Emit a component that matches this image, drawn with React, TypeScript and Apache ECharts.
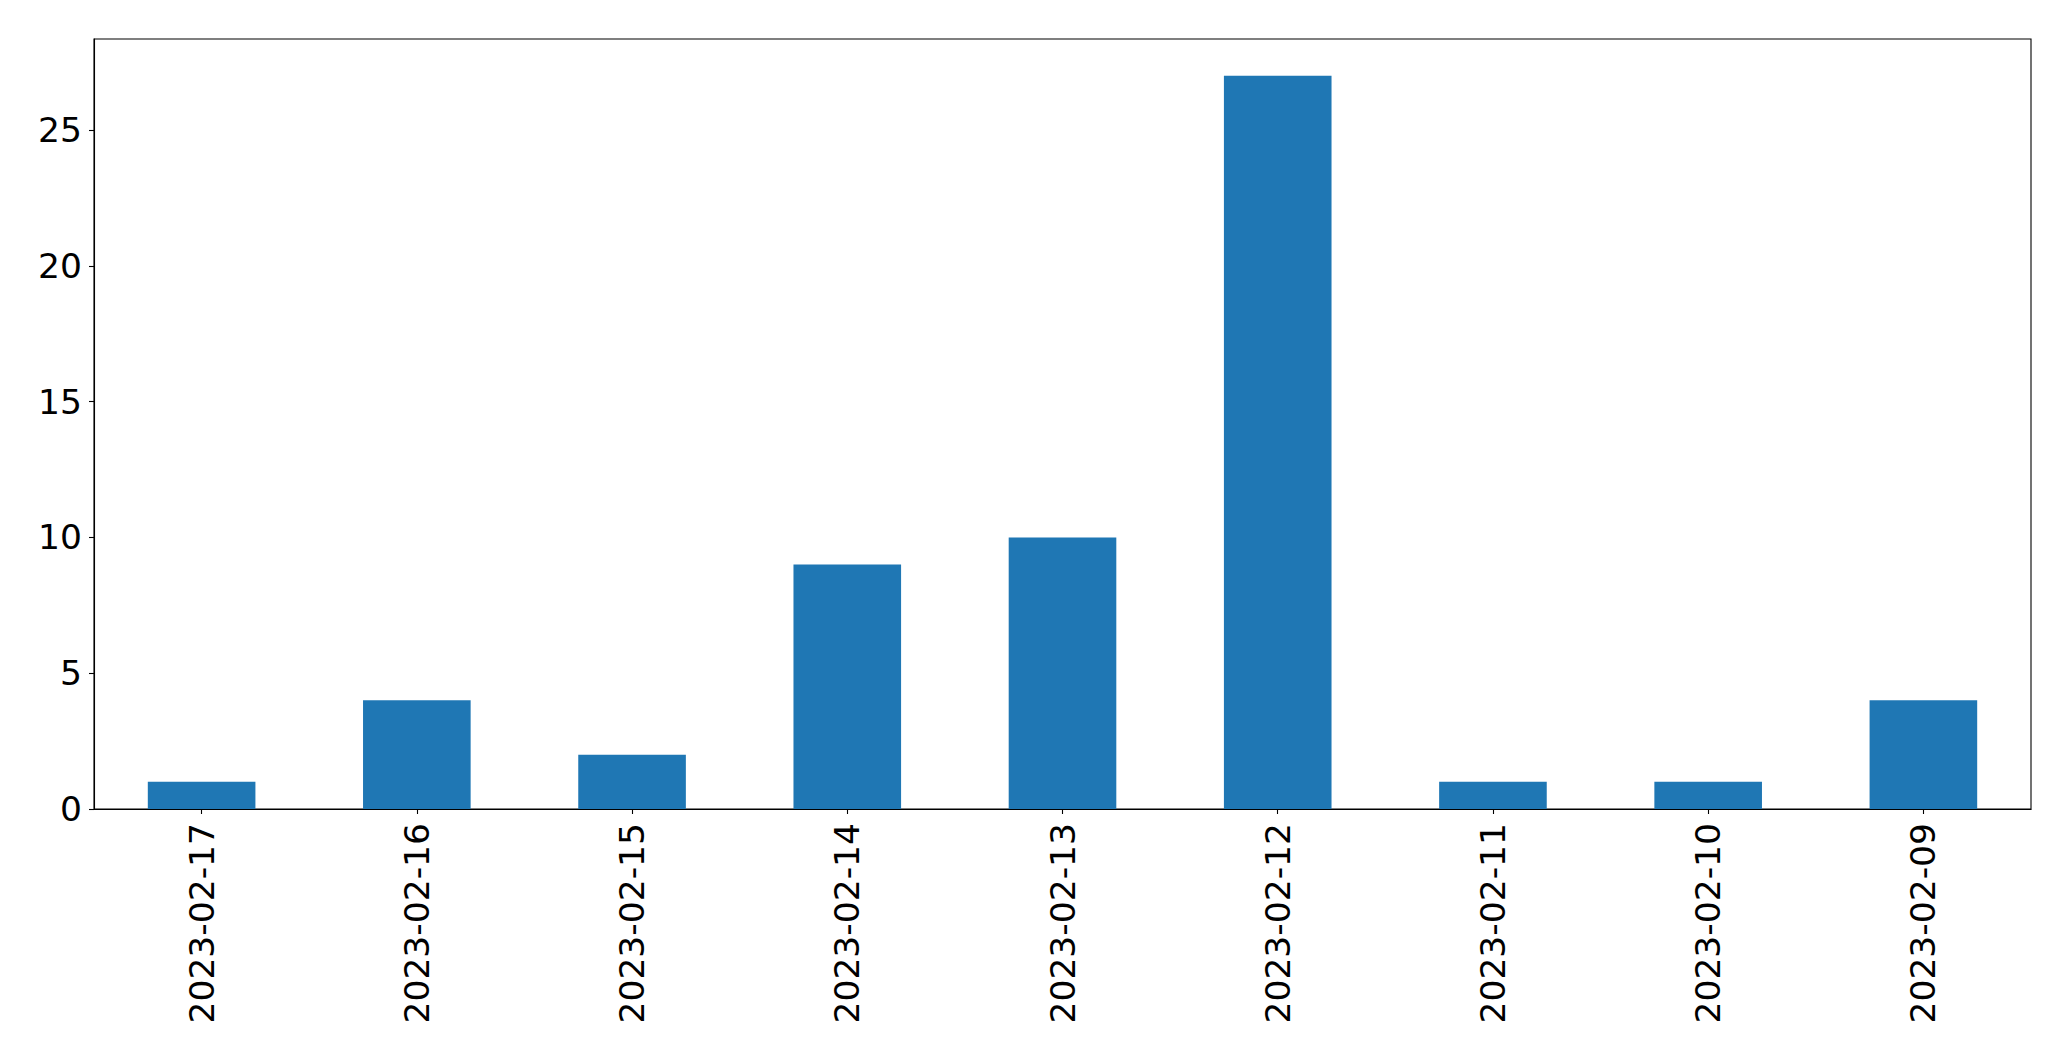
import React, { useEffect, useRef } from "react";
import * as echarts from "echarts";

const categories = [
  "2023-02-17",
  "2023-02-16",
  "2023-02-15",
  "2023-02-14",
  "2023-02-13",
  "2023-02-12",
  "2023-02-11",
  "2023-02-10",
  "2023-02-09",
];
const values = [1, 4, 2, 9, 10, 27, 1, 1, 4];
const yTicks = [0, 5, 10, 15, 20, 25];
const yMax = 28.35;

export default function App() {
  const ref = useRef<HTMLDivElement>(null);
  useEffect(() => {
    if (!ref.current) return;
    const chart = echarts.init(ref.current, null, { renderer: "svg" });
    const font = "DejaVu Sans";
    chart.setOption({
      animation: false,
      backgroundColor: "#ffffff",
      grid: {
        left: 94,
        top: 39,
        right: 40,
        bottom: 252,
        show: true,
        borderColor: "#000000",
        borderWidth: 1.1,
        containLabel: false,
      },
      xAxis: {
        type: "category",
        data: categories,
        boundaryGap: true,
        axisLine: { show: true, lineStyle: { color: "#000000", width: 1.1 } },
        axisTick: {
          show: true,
          alignWithLabel: true,
          length: 5,
          lineStyle: { color: "#000000", width: 1.1 },
        },
        axisLabel: {
          rotate: 90,
          interval: 0,
          margin: 14,
          color: "#000000",
          fontSize: 34.5,
          fontFamily: font,
        },
        splitLine: { show: false },
      },
      yAxis: {
        type: "value",
        min: 0,
        max: yMax,
        interval: 5,
        axisLine: { show: true, lineStyle: { color: "#000000", width: 1.1 } },
        axisTick: {
          show: true,
          length: 5,
          customValues: yTicks,
          lineStyle: { color: "#000000", width: 1.1 },
        },
        axisLabel: {
          customValues: yTicks,
          margin: 12,
          color: "#000000",
          fontSize: 34.5,
          fontFamily: font,
        },
        splitLine: { show: false },
      },
      series: [
        {
          type: "bar",
          data: values,
          barWidth: "50%",
          itemStyle: { color: "#1f77b4" },
        },
      ],
    });
    return () => chart.dispose();
  }, []);
  return <div ref={ref} style={{ width: 2071, height: 1061, position: "absolute", left: 0, top: 0 }} />;
}
